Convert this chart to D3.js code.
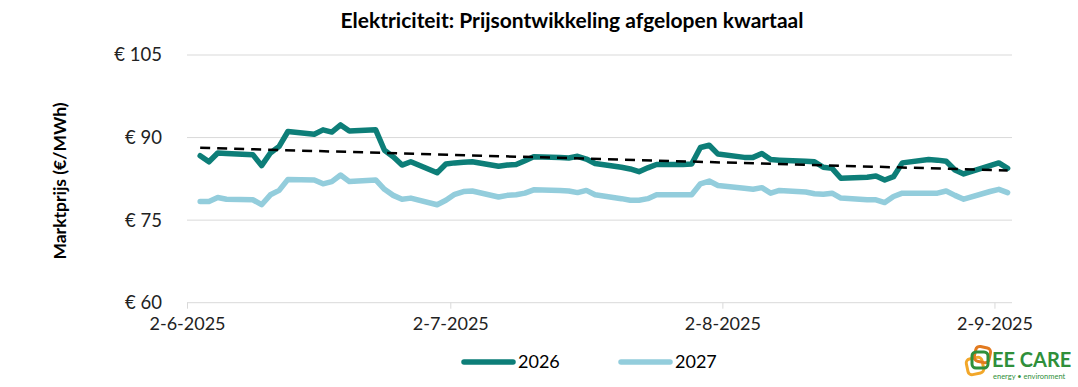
<!DOCTYPE html>
<html lang="nl">
<head>
<meta charset="UTF-8">
<title>Elektriciteit: Prijsontwikkeling afgelopen kwartaal</title>
<style>
  html, body { margin: 0; padding: 0; background: #fff; }
  #chart { width: 1078px; height: 387px; }
  text { font-family: Lato, "Open Sans", sans-serif; }
</style>
</head>
<body>
<div id="chart"></div>
<script src="https://d3js.org/d3.v7.min.js"></script>
<script>
// handelsdagen (werkdagen) in het kwartaal
const dates = [
  "2025-06-03","2025-06-04","2025-06-05","2025-06-06","2025-06-09","2025-06-10","2025-06-11","2025-06-12","2025-06-13",
  "2025-06-16","2025-06-17","2025-06-18","2025-06-19","2025-06-20","2025-06-23","2025-06-24","2025-06-25","2025-06-26",
  "2025-06-27","2025-06-30","2025-07-01","2025-07-02","2025-07-03","2025-07-04","2025-07-07","2025-07-08","2025-07-09",
  "2025-07-10","2025-07-11","2025-07-14","2025-07-15","2025-07-16","2025-07-17","2025-07-18","2025-07-21","2025-07-22",
  "2025-07-23","2025-07-24","2025-07-25","2025-07-28","2025-07-29","2025-07-30","2025-07-31","2025-08-01","2025-08-04",
  "2025-08-05","2025-08-06","2025-08-07","2025-08-08","2025-08-11","2025-08-12","2025-08-13","2025-08-14","2025-08-15",
  "2025-08-18","2025-08-19","2025-08-20","2025-08-21","2025-08-22","2025-08-25","2025-08-26","2025-08-27","2025-08-28",
  "2025-08-29","2025-09-01","2025-09-02","2025-09-03"
];

const prices2026 = [
  86.7, 85.6, 87.2, 87.1, 86.9, 84.9, 87.2, 88.4, 91.1,
  90.6, 91.4, 91.0, 92.3, 91.2, 91.4, 87.7, 86.5, 85.0,
  85.6, 83.6, 85.2, 85.4, 85.5, 85.6, 84.8, 85.0, 85.1,
  85.8, 86.5, 86.4, 86.3, 86.6, 86.1, 85.3, 84.6, 84.3,
  83.8, 84.5, 85.1, 85.1, 85.2, 88.2, 88.6, 87.0, 86.4,
  86.4, 87.1, 86.0, 85.9, 85.7, 85.6, 84.6, 84.4, 82.6,
  82.8, 83.0, 82.3, 82.9, 85.4, 86.0, 85.9, 85.7, 84.1,
  83.4, 84.9, 85.4, 84.4
];

const prices2027 = [
  78.4, 78.4, 79.1, 78.8, 78.7, 77.8, 79.6, 80.4, 82.4,
  82.3, 81.6, 82.0, 83.2, 82.0, 82.3, 80.6, 79.5, 78.8,
  79.0, 77.8, 78.6, 79.7, 80.2, 80.3, 79.2, 79.5, 79.6,
  79.9, 80.5, 80.4, 80.3, 80.0, 80.4, 79.6, 78.9, 78.6,
  78.6, 78.9, 79.6, 79.6, 79.6, 81.6, 82.1, 81.3, 80.8,
  80.6, 80.9, 79.9, 80.4, 80.1, 79.8, 79.7, 79.9, 79.0,
  78.7, 78.7, 78.2, 79.3, 79.9, 79.9, 79.9, 80.3, 79.5,
  78.8, 80.2, 80.6, 80.0
];

const seriesNames = ["2026", "2027"];
const yTicks = [60, 75, 90, 105];
const xTickDates = ["2025-06-02", "2025-07-02", "2025-08-02", "2025-09-02"];

const W = 1078, H = 387;
const colors = { "2026": "#0d7e78", "2027": "#93cddc" };

const parse = d3.timeParse("%Y-%m-%d");
// punten staan midden op de dag (datum-as van Excel)
const pts = dates.map(s => d3.timeHour.offset(parse(s), 12));

const svg = d3.select("#chart").append("svg")
  .attr("width", W).attr("height", H);

const x = d3.scaleTime()
  .domain([parse("2025-06-02"), parse("2025-09-04")])
  .range([187, 1012]);

const y = d3.scaleLinear()
  .domain([60, 105])
  .range([302.7, 55]);

// gridlijnen
svg.append("g").selectAll("line")
  .data(yTicks)
  .join("line")
  .attr("x1", x.range()[0]).attr("x2", x.range()[1])
  .attr("y1", d => y(d)).attr("y2", d => y(d))
  .attr("stroke", "#d9d9d9").attr("stroke-width", 1);

// y labels
svg.append("g").selectAll("text")
  .data(yTicks)
  .join("text")
  .attr("x", 162).attr("y", d => y(d))
  .attr("dy", "0.35em")
  .attr("text-anchor", "end")
  .attr("font-size", 18.5)
  .attr("fill", "#222")
  .text(d => "€ " + d);

// x as
const xAxis = d3.axisBottom(x)
  .tickValues(xTickDates.map(parse))
  .tickSize(6)
  .tickPadding(9)
  .tickFormat(d3.timeFormat("%-d-%-m-%Y"));

const gx = svg.append("g")
  .attr("transform", `translate(0,${y(60)})`)
  .call(xAxis);
gx.select(".domain").remove();
gx.selectAll(".tick line").attr("stroke", "#d9d9d9");
gx.selectAll(".tick text")
  .attr("font-family", "Lato, sans-serif")
  .attr("font-size", 18)
  .attr("fill", "#222");

// lijnen
const line = d3.line()
  .x((d, i) => x(pts[i]))
  .y(d => y(d));

[["2027", prices2027], ["2026", prices2026]].forEach(([name, vals]) => {
  svg.append("path")
    .datum(vals)
    .attr("d", line)
    .attr("fill", "none")
    .attr("stroke", colors[name])
    .attr("stroke-width", 5.5)
    .attr("stroke-linejoin", "round")
    .attr("stroke-linecap", "round");
});

// lineaire trendlijn over 2026
const tx = pts.map(d => +d);
const mx = d3.mean(tx), my = d3.mean(prices2026);
const slope = d3.sum(tx, (t, i) => (t - mx) * (prices2026[i] - my)) / d3.sum(tx, t => (t - mx) ** 2);
const trend = [tx[0], tx[tx.length - 1]].map(t => [t, my + slope * (t - mx)]);

svg.append("path")
  .datum(trend)
  .attr("d", d3.line().x(d => x(d[0])).y(d => y(d[1])))
  .attr("fill", "none")
  .attr("stroke", "#000")
  .attr("stroke-width", 2.5)
  .attr("stroke-dasharray", "10,7");

// titel
svg.append("text")
  .attr("x", 572).attr("y", 28)
  .attr("text-anchor", "middle")
  .attr("font-size", 21)
  .attr("font-weight", "bold")
  .attr("fill", "#000")
  .text("Elektriciteit: Prijsontwikkeling afgelopen kwartaal");

// y-as titel
svg.append("text")
  .attr("transform", "translate(66,181) rotate(-90)")
  .attr("text-anchor", "middle")
  .attr("font-size", 17.5)
  .attr("font-weight", "bold")
  .attr("fill", "#000")
  .text("Marktprijs (€/MWh)");

// legenda
const legend = svg.append("g").attr("transform", "translate(462,362)");
seriesNames.forEach((name, i) => {
  const g = legend.append("g").attr("transform", `translate(${i * 157},0)`);
  g.append("line")
    .attr("x1", 2).attr("x2", 51)
    .attr("stroke", colors[name])
    .attr("stroke-width", 5.5)
    .attr("stroke-linecap", "round");
  g.append("text")
    .attr("x", 56).attr("dy", "0.35em")
    .attr("font-size", 18)
    .attr("fill", "#000")
    .text(name);
});

// logo EE CARE
const logo = svg.append("g").attr("transform", "translate(966,346)");
logo.append("rect")
  .attr("x", 1).attr("y", 12).attr("width", 16).attr("height", 16).attr("rx", 4)
  .attr("transform", "rotate(-12,9,20)")
  .attr("fill", "none").attr("stroke", "#f2a72a").attr("stroke-width", 3);
logo.append("rect")
  .attr("x", 9).attr("y", 1).attr("width", 15).attr("height", 15).attr("rx", 4)
  .attr("transform", "rotate(12,16,8)")
  .attr("fill", "none").attr("stroke", "#e27a1f").attr("stroke-width", 3);
logo.append("rect")
  .attr("x", 6).attr("y", 6).attr("width", 16).attr("height", 16).attr("rx", 4)
  .attr("fill", "none").attr("stroke", "#2f8f3a").attr("stroke-width", 3);
logo.append("text")
  .attr("x", 26).attr("y", 21)
  .attr("font-size", 20)
  .attr("font-weight", "bold")
  .attr("fill", "#2f8f3a")
  .text("EE CARE");
logo.append("text")
  .attr("x", 27).attr("y", 33)
  .attr("font-size", 7.5)
  .attr("fill", "#2f8f3a")
  .text("energy • environment");
</script>
</body>
</html>
